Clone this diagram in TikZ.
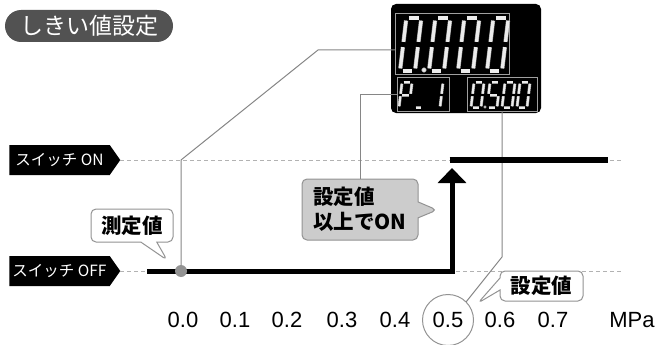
\documentclass[tikz,border=0pt]{standalone}
\usepackage{fontspec}
\setmainfont{Liberation Sans}
\newfontfamily\jp{Noto Sans CJK JP}
\usetikzlibrary{arrows.meta}
\usetikzlibrary{shapes.arrows,shapes.callouts}

\begin{document}
\begin{tikzpicture}[x=1pt, y=-1pt,
            every node/.style = {inner sep = 0pt,
                                outer sep = 0pt},
            leader/.style     = {draw = gray!95,
                                line width = 1pt},
            level/.style      = {draw = gray!60,
                                line width = 0.8pt,
                                dash pattern = on 4pt off 3pt},
            switchlabel/.style = {signal, signal to = east,
                                signal pointer angle = 110,
                                fill = black, text = white,
                                minimum height = 30pt,
                                minimum width  = 111pt,
                                font = \jp\fontsize{15.5}{15.5}\selectfont},
            bubble/.style     = {rectangle callout,
                                rounded corners = 5pt,
                                draw = gray!85, line width = 1pt,
                                align = left,
                                font = \jp\bfseries\fontsize{20.5}{25}\selectfont},
            lcd/.style        = {rectangle, draw = gray!75,
                                line width = 1pt},
            seg/.style        = {draw = gray!80, double = gray!15,
                                line width = 0.5pt},
            axis/.style       = {font = \fontsize{22}{22}\selectfont}
            ]
            \newcommand{\segdigit}[6]{%
            \begin{scope}[shift={(#1,#2)}, x=1pt, y=1pt, xslant=0.12]
            \path (0.17*#3,#4)     coordinate (sa1) (0.83*#3,#4)     coordinate (sa2)
                  (#3,0.95*#4)     coordinate (sb1) (#3,0.55*#4)     coordinate (sb2)
                  (#3,0.45*#4)     coordinate (sc1) (#3,0.05*#4)     coordinate (sc2)
                  (0.17*#3,0)      coordinate (sd1) (0.83*#3,0)      coordinate (sd2)
                  (0,0.05*#4)      coordinate (se1) (0,0.45*#4)      coordinate (se2)
                  (0,0.55*#4)      coordinate (sf1) (0,0.95*#4)      coordinate (sf2)
                  (0.17*#3,0.5*#4) coordinate (sg1) (0.83*#3,0.5*#4) coordinate (sg2);
            \foreach \s in {#6} {\draw[seg, double distance=#5] (s\s1) -- (s\s2);}
            \end{scope}
            }
            \useasboundingbox (0,0) rectangle (656,345);

            % title
            \node [fill = black!68, rounded corners = 16pt,
                   minimum width = 168pt, minimum height = 32pt,
                   text = white,
                   font = \jp\fontsize{23}{23}\selectfont] (title) at (89,26) {しきい値設定};

            % display
            \node [fill = black, rounded corners = 5pt,
                   minimum width = 150pt, minimum height = 109pt] (display) at (466,58.5) {};
            \node [lcd, minimum width = 114pt, minimum height = 61pt] (mainbox) at (452,44.5) {};
            \node [lcd, minimum width = 52pt,  minimum height = 33pt] (pbox)    at (423,94.5) {};
            \node [lcd, minimum width = 70pt,  minimum height = 33pt] (setbox)  at (502,94.5) {};
            \foreach \x in {400,429,458,487} {\segdigit{\x}{71}{15}{53}{3.2pt}{a,b,c,d,e,f}}
            \fill [gray!20, draw = gray!80, line width = 0.4pt] (424,70) circle (2.3);
            \segdigit{399}{107.5}{10}{25}{2pt}{a,b,e,f,g}
            \segdigit{414}{107.5}{9}{25}{2pt}{d}
            \segdigit{430}{107.5}{10}{25}{2pt}{b,c}
            \segdigit{471}{107.5}{10}{25}{2pt}{a,b,c,d,e,f}
            \segdigit{487}{107.5}{10}{25}{2pt}{a,f,g,c,d}
            \segdigit{502}{107.5}{10}{25}{2pt}{a,b,c,d,e,f}
            \segdigit{517}{107.5}{10}{25}{2pt}{a,b,c,d,e,f}
            \fill [gray!20, draw = gray!80, line width = 0.4pt] (485,107) circle (1.4);

            % switch levels
            \node [switchlabel] (swon)  at (59.5,160) {スイッチ ON};
            \node [switchlabel] (swoff) at (59.5,271) {スイッチ OFF};
            \coordinate (onend)  at (623,160);
            \coordinate (offend) at (623,271);
            \draw [level] (swon.east)  -- (onend);
            \draw [level] (swoff.east) -- (offend);

            % axis
            \foreach \v/\x [count=\i from 0] in {0.0/183,0.1/235,0.2/287,0.3/342,
                                                 0.4/395,0.5/448,0.6/500,0.7/553}
                \node [axis] (tick\i) at (\x,320) {\v};
            \node [axis] (unit) at (632,320) {MPa};
            \node [circle, draw = gray!85, line width = 1pt,
                   minimum size = 51pt] (c05) at (tick5) {};

            % leaders
            \coordinate (bend1) at (318,50);
            \coordinate (bend2) at (181,160);
            \coordinate (bend3) at (502,257);
            \coordinate (meas)  at (181,271);
            \draw [leader] ([yshift=-5.5pt]mainbox.west) -- (bend1) -- (bend2) -- (meas);
            \draw [leader] (setbox.south) -- (bend3) -- (c05.north east);

            % switching curve
            \coordinate (offstart) at (147,271);
            \coordinate (jump)     at (452,271);
            \coordinate (ontop)    at (452,168);
            \coordinate (onstart)  at (449.5,160);
            \coordinate (onstop)   at (608,160);
            \draw [line width = 5pt, -{Triangle[width=28pt,length=15pt]}]
                  (offstart) -- (jump) -- (ontop);
            \draw [line width = 6pt] (onstart) -- (onstop);
            \node [circle, fill = gray!85, minimum size = 12pt] (measdot) at (meas) {};

            % callouts
            \coordinate (tipmeas) at (167,260);
            \coordinate (tipon)   at (437,210);
            \coordinate (tipset)  at (478,303);
            \node [bubble, fill = white, minimum width = 82pt, minimum height = 33pt,
                   callout absolute pointer = {(tipmeas)},
                   callout pointer width = 16pt] (measbubble) at (132,225.5) {測定値};
            \node [bubble, fill = gray!40, minimum width = 116pt, minimum height = 61pt,
                   callout absolute pointer = {(tipon)},
                   callout pointer width = 16pt] (onbubble) at (360,209.5) {設定値\\以上でON};
            \node [bubble, fill = white, minimum width = 83pt, minimum height = 30pt,
                   callout absolute pointer = {(tipset)},
                   callout pointer width = 12pt] (setbubble) at (541.5,286) {設定値};
            \draw [leader] (pbox.west) -| (onbubble.north);
\end{tikzpicture}
\end{document}
